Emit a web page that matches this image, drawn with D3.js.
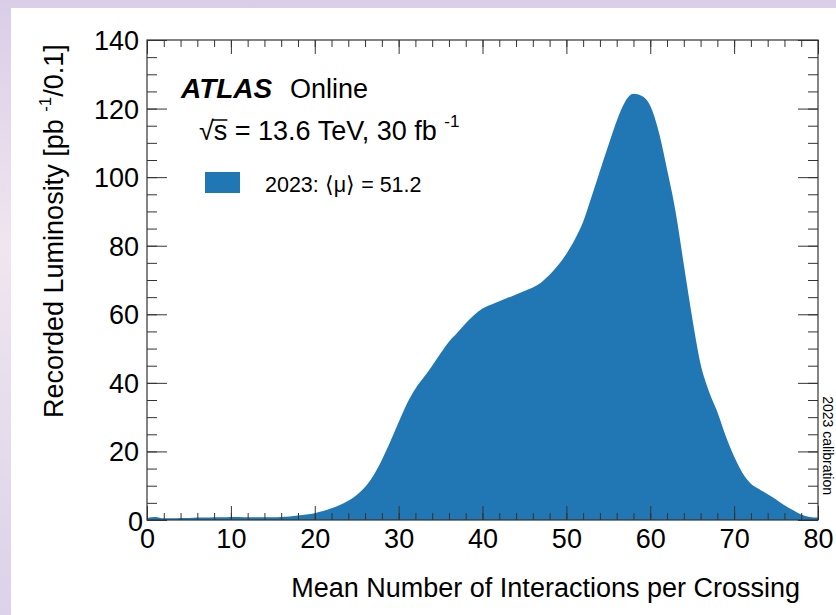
<!DOCTYPE html>
<html><head><meta charset="utf-8">
<script src="https://cdn.jsdelivr.net/npm/d3@7"></script>
<style>html,body{margin:0;padding:0;overflow:hidden;background:#fff;} svg{display:block;}</style>
</head><body>
<svg id="c" width="836" height="615"></svg>
<script>
// Mean number of interactions per crossing (bin centres, unit steps)
const muPoints = [0,1,2,3,4,5,6,7,8,9,10,11,12,13,14,15,16,17,18,19,20,
  21,22,23,24,25,26,27,28,29,30,31,32,33,34,35,36,37,38,39,40,
  41,42,43,44,45,46,47,48,49,50,51,52,53,54,55,56,57,58,59,60,
  61,62,63,64,65,66,67,68,69,70,71,72,73,74,75,76,77,78,79,80];
// Recorded luminosity per 0.1 in mu [pb^-1]
const lumiValues = [0.6,0.9,0.5,0.5,0.6,0.6,0.7,0.7,0.8,0.8,0.9,
  0.9,0.8,0.8,0.8,0.8,0.9,1.0,1.3,1.6,2.0,
  2.6,3.4,4.4,5.6,7.3,9.6,13.0,17.5,22.8,28.5,
  34.0,38.3,41.6,45.0,48.6,52.0,54.6,57.4,59.8,61.7,
  62.8,63.8,64.8,65.8,66.8,67.8,69.3,71.5,74.3,77.6,
  81.8,87.0,94.3,101.8,109.2,116.4,122.0,124.3,123.7,120.8,
  113.3,102.3,90.2,74.5,59.0,45.5,37.5,31.5,24.5,18.5,
  13.7,10.6,9.0,7.5,6.0,4.3,2.9,1.6,0.9,0.7];
const xTickValues = [0,10,20,30,40,50,60,70,80];
const xMinorValues = [0,2,4,6,8,10,12,14,16,18,20,22,24,26,28,30,32,34,36,38,40,
  42,44,46,48,50,52,54,56,58,60,62,64,66,68,70,72,74,76,78,80];
const yTickValues = [0,20,40,60,80,100,120,140];
const yMinorValues = [0,5,10,15,20,25,30,35,40,45,50,55,60,65,70,75,80,85,90,95,
  100,105,110,115,120,125,130,135,140];

const FONT = "'Liberation Sans', Arial, Helvetica, sans-serif";
const FILL = "#2077b4";

const svg = d3.select("#c");
const W = 836, H = 615;

// page backdrop: lavender frame around a white canvas
const defs = svg.append("defs");
const bg = defs.append("linearGradient").attr("id","bg").attr("x1",0).attr("y1",0).attr("x2",0).attr("y2",1);
bg.append("stop").attr("offset","0%").attr("stop-color","#dacde8");
bg.append("stop").attr("offset","40%").attr("stop-color","#efe6ef");
bg.append("stop").attr("offset","100%").attr("stop-color","#dcd2ea");
svg.append("rect").attr("width",W).attr("height",H).attr("fill","url(#bg)");
svg.append("rect").attr("x",11).attr("y",8).attr("width",W-11).attr("height",H-8).attr("fill","#fff");

const m = {left:147, right:818, top:40, bottom:520};
const x = d3.scaleLinear().domain([0,80]).range([m.left, m.right]);
const y = d3.scaleLinear().domain([0,140]).range([m.bottom, m.top]);

defs.append("clipPath").attr("id","plotclip").append("rect")
  .attr("x",m.left).attr("y",m.top).attr("width",m.right-m.left).attr("height",m.bottom-m.top);

const data = muPoints.map((d,i)=>({mu:d, v:lumiValues[i]}));
const area = d3.area().x(d=>x(d.mu)).y0(y(0)).y1(d=>y(d.v)).curve(d3.curveMonotoneX);
svg.append("path").datum(data).attr("clip-path","url(#plotclip)")
  .attr("d",area).attr("fill",FILL);

// axes with inward ticks on all four sides
function styleAxis(g){
  g.select(".domain").remove();
  g.selectAll(".tick line").attr("stroke","#333").attr("stroke-width",1);
}
const gx = svg.append("g").attr("transform",`translate(0,${m.bottom})`)
  .call(d3.axisBottom(x).tickValues(xMinorValues).tickSize(-7).tickFormat(""));
styleAxis(gx);
const gxM = svg.append("g").attr("transform",`translate(0,${m.bottom})`)
  .call(d3.axisBottom(x).tickValues(xTickValues).tickSize(-14).tickFormat(d3.format("d")));
styleAxis(gxM);
gxM.selectAll("text").attr("font-family",FONT).attr("font-size",27).attr("fill","#000").attr("y",9).attr("dy","0.71em");

const gxt = svg.append("g").attr("transform",`translate(0,${m.top})`)
  .call(d3.axisTop(x).tickValues(xMinorValues).tickSize(-7).tickFormat(""));
styleAxis(gxt);
const gxtM = svg.append("g").attr("transform",`translate(0,${m.top})`)
  .call(d3.axisTop(x).tickValues(xTickValues).tickSize(-14).tickFormat(""));
styleAxis(gxtM);

const gy = svg.append("g").attr("transform",`translate(${m.left},0)`)
  .call(d3.axisLeft(y).tickValues(yMinorValues).tickSize(-10).tickFormat(""));
styleAxis(gy);
const gyM = svg.append("g").attr("transform",`translate(${m.left},0)`)
  .call(d3.axisLeft(y).tickValues(yTickValues).tickSize(-20).tickFormat(d3.format("d")));
styleAxis(gyM);
gyM.selectAll("text").attr("font-family",FONT).attr("font-size",27).attr("fill","#000").attr("x",-8).attr("dy","0.35em");
gyM.selectAll(".tick").filter(d=>d===0).select("text").attr("x",-4).attr("dy","0.38em");

const gyr = svg.append("g").attr("transform",`translate(${m.right},0)`)
  .call(d3.axisRight(y).tickValues(yMinorValues).tickSize(-10).tickFormat(""));
styleAxis(gyr);
const gyrM = svg.append("g").attr("transform",`translate(${m.right},0)`)
  .call(d3.axisRight(y).tickValues(yTickValues).tickSize(-20).tickFormat(""));
styleAxis(gyrM);

// frame
svg.append("rect").attr("x",m.left).attr("y",m.top).attr("width",m.right-m.left).attr("height",m.bottom-m.top)
  .attr("fill","none").attr("stroke","#333").attr("stroke-width",1.2);

// axis titles
svg.append("text").attr("x",800).attr("y",597).attr("text-anchor","end")
  .attr("font-family",FONT).attr("font-size",27).text("Mean Number of Interactions per Crossing");

const yt = svg.append("text").attr("transform","translate(63,418) rotate(-90)")
  .attr("font-family",FONT).attr("font-size",27);
yt.append("tspan").text("Recorded Luminosity [pb ");
yt.append("tspan").attr("font-size",17).attr("dy",-12).text("-1");
yt.append("tspan").attr("dy",12).text("/0.1]");

// labels
const lab = svg.append("g").attr("font-family",FONT);
lab.append("text").attr("x",181).attr("y",98).attr("font-size",28).attr("font-weight","bold").attr("font-style","italic").text("ATLAS");
lab.append("text").attr("x",290).attr("y",98).attr("font-size",27).text("Online");
const rs = lab.append("text").attr("x",199).attr("y",140).attr("font-size",27);
rs.append("tspan").text("√s = 13.6 TeV, 30 fb ");
rs.append("tspan").attr("font-size",17).attr("dy",-13).text("-1");
// overline across the "s" under the root sign
const rsNode = rs.select("tspan").node();
const s0 = rsNode.getStartPositionOfChar(1).x, s1 = rsNode.getEndPositionOfChar(1).x;
lab.append("line").attr("x1",s0-1).attr("x2",s1).attr("y1",120).attr("y2",120).attr("stroke","#000").attr("stroke-width",1.5);

lab.append("rect").attr("x",205).attr("y",172).attr("width",35).attr("height",21).attr("fill",FILL);
lab.append("text").attr("x",265).attr("y",192).attr("font-size",21.5).text("2023: ⟨μ⟩ = 51.2");

svg.append("text").attr("transform","translate(823,495) rotate(90)").attr("text-anchor","end")
  .attr("font-family",FONT).attr("font-size",14).text("2023 calibration");
</script>
</body></html>
